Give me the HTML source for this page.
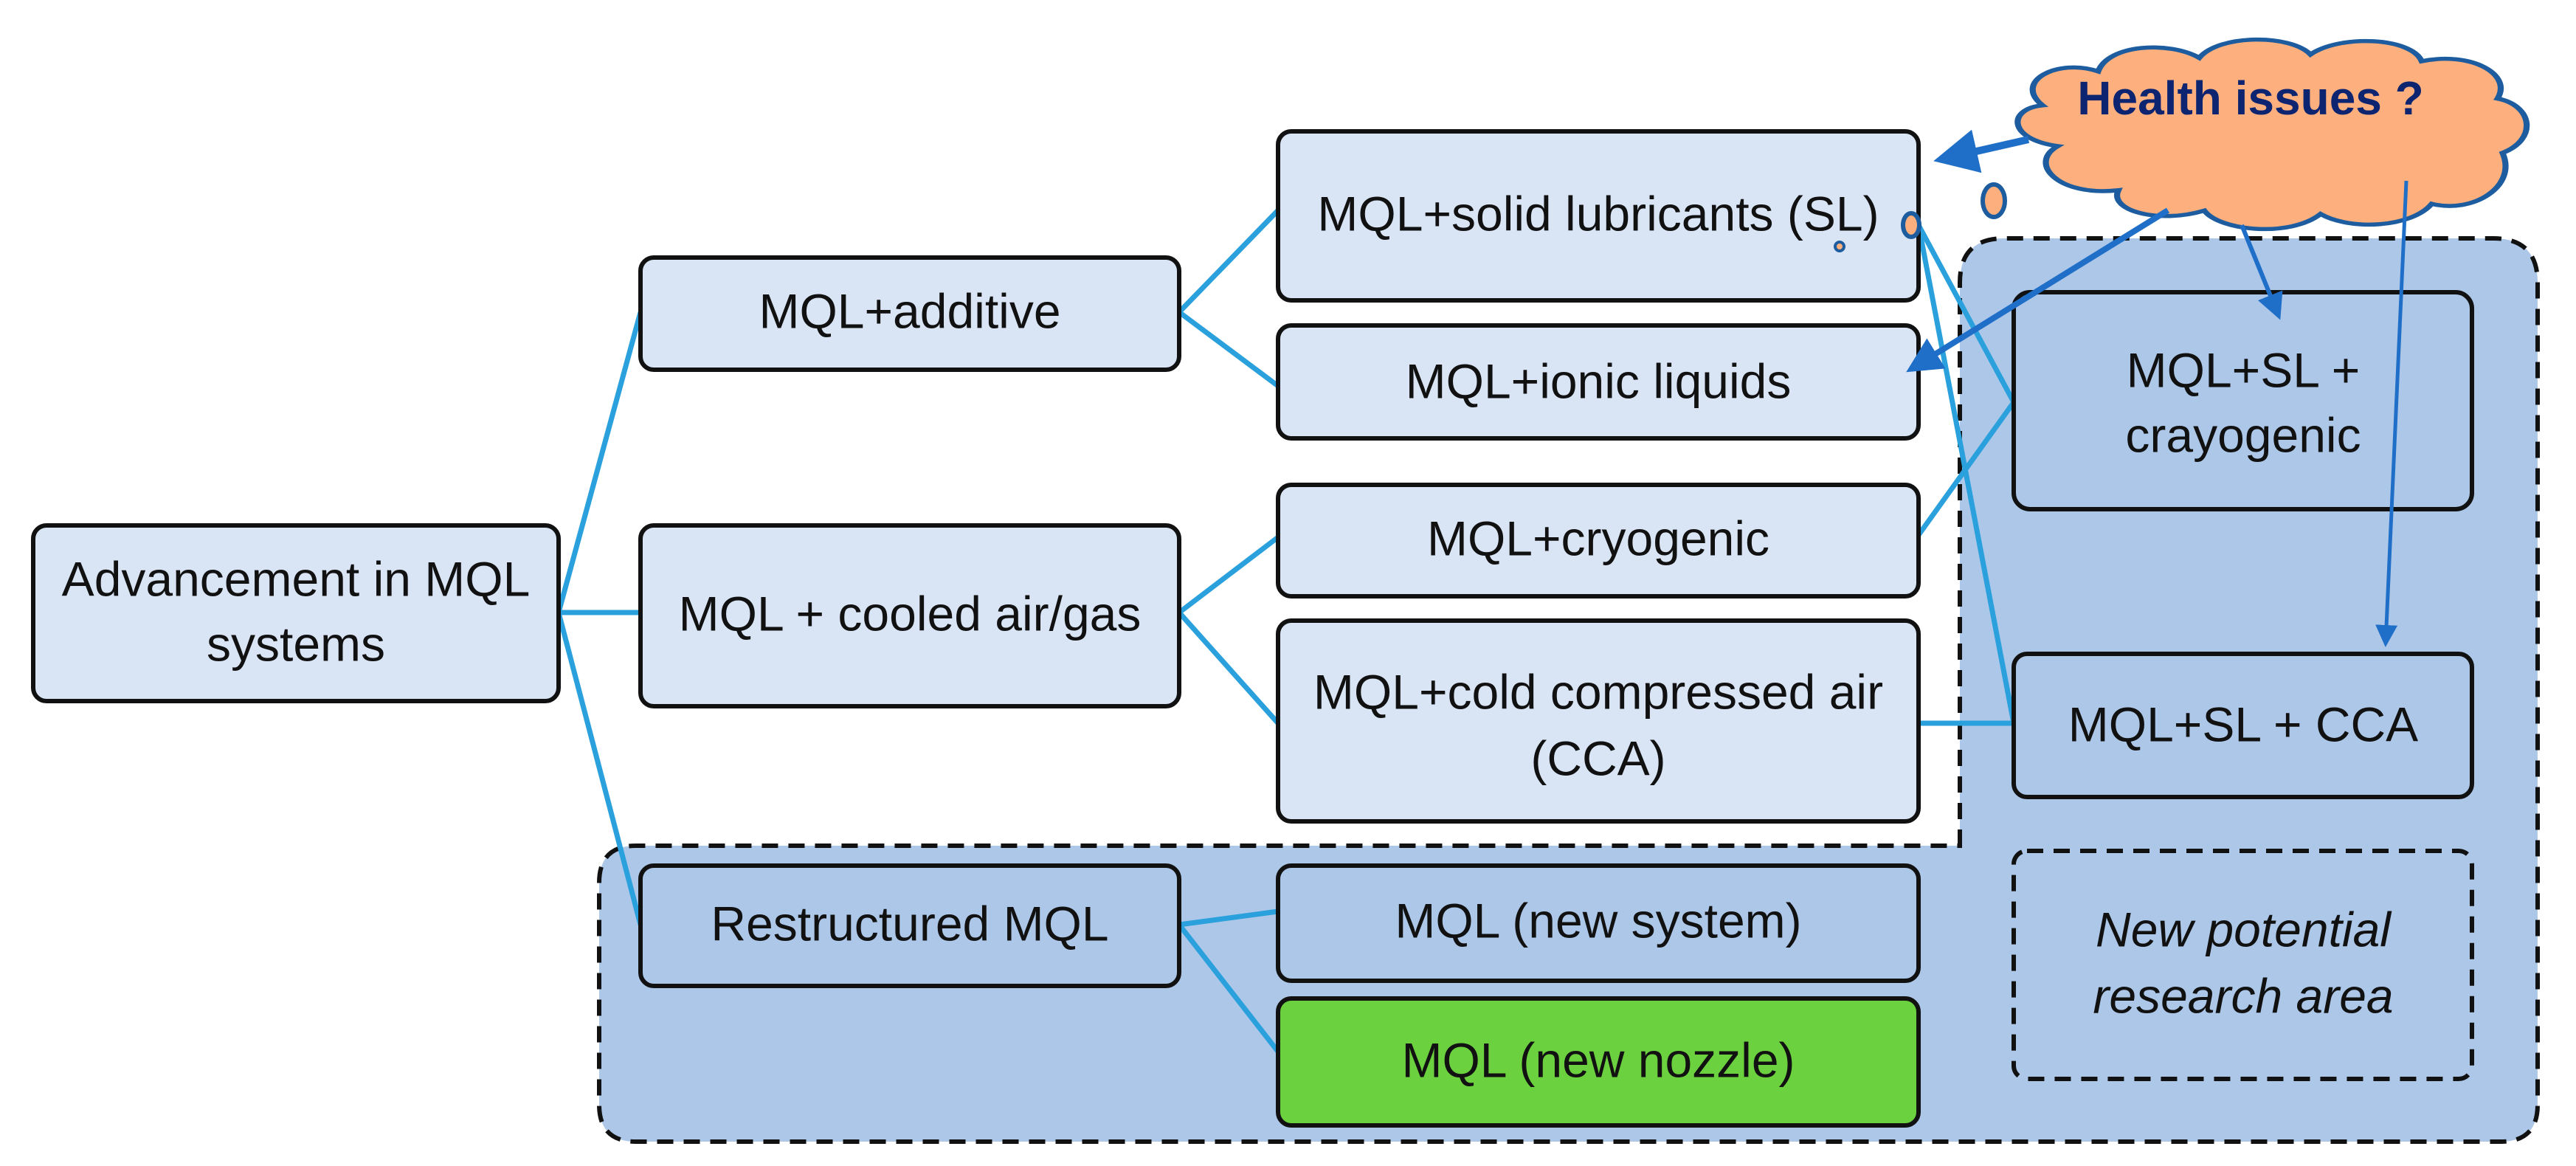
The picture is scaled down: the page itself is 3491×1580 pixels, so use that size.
<!DOCTYPE html>
<html><head><meta charset="utf-8"><style>
html,body{margin:0;padding:0;background:#fff;}
svg{display:block;}
text{font-family:"Liberation Sans",sans-serif;font-size:66px;fill:#111;text-anchor:middle;dominant-baseline:middle;}
</style></head><body>
<svg width="3491" height="1580" viewBox="0 0 3491 1580" xmlns="http://www.w3.org/2000/svg">
<defs>
<marker id="ah" markerWidth="6" markerHeight="6" refX="5" refY="3" orient="auto" markerUnits="strokeWidth">
<path d="M0,0 L6,3 L0,6 z" fill="#1f6fc8"/></marker>
</defs>
<path d="M2656,1146 L2656,383 Q2656,323 2716,323 L3379,323 Q3439,323 3439,383 L3439,1497 Q3439,1547 3389,1547 L862,1547 Q812,1547 812,1497 L812,1196 Q812,1146 862,1146 Z" fill="#adc7e8" stroke="#111" stroke-width="6" stroke-dasharray="22,14"/>
<g stroke="#2aa0dc" stroke-width="7" fill="none">
<line x1="757" y1="830" x2="868" y2="423"/>
<line x1="757" y1="830" x2="868" y2="830"/>
<line x1="757" y1="830" x2="868" y2="1253"/>
<line x1="1598" y1="423" x2="1732" y2="285"/>
<line x1="1598" y1="423" x2="1732" y2="523"/>
<line x1="1598" y1="830" x2="1732" y2="728"/>
<line x1="1598" y1="830" x2="1732" y2="980"/>
<line x1="1598" y1="1253" x2="1732" y2="1235"/>
<line x1="1598" y1="1253" x2="1732" y2="1425"/>
<line x1="2600" y1="305" x2="2729" y2="545"/>
<line x1="2600" y1="305" x2="2729" y2="980"/>
<line x1="2600" y1="725" x2="2729" y2="545"/>
<line x1="2600" y1="980" x2="2729" y2="980"/>
</g>
<g stroke="#111" stroke-width="6">
<rect x="45" y="712" width="712" height="238" rx="18" fill="#d9e5f5"/>
<rect x="868" y="349" width="730" height="152" rx="18" fill="#d9e5f5"/>
<rect x="868" y="712" width="730" height="245" rx="18" fill="#d9e5f5"/>
<rect x="868" y="1173" width="730" height="163" rx="18" fill="#adc7e8"/>
<rect x="1732" y="178" width="868" height="229" rx="18" fill="#d9e5f5"/>
<rect x="1732" y="441" width="868" height="153" rx="18" fill="#d9e5f5"/>
<rect x="1732" y="657" width="868" height="151" rx="18" fill="#d9e5f5"/>
<rect x="1732" y="841" width="868" height="272" rx="18" fill="#d9e5f5"/>
<rect x="1732" y="1173" width="868" height="156" rx="18" fill="#adc7e8"/>
<rect x="1732" y="1353" width="868" height="172" rx="18" fill="#6cd13f"/>
<rect x="2729" y="396" width="621" height="294" rx="22" fill="#adc7e8"/>
<rect x="2729" y="886" width="621" height="194" rx="18" fill="#adc7e8"/>
<rect x="2729" y="1153" width="621" height="309" rx="18" fill="none" stroke-dasharray="22,14"/>
</g>
<text x="401" y="790">Advancement in MQL</text>
<text x="401" y="878">systems</text>
<text x="1233" y="427">MQL+additive</text>
<text x="1233" y="837">MQL + cooled air/gas</text>
<text x="1233" y="1257">Restructured MQL</text>
<text x="2166" y="295">MQL+solid lubricants (SL)</text>
<text x="2166" y="522">MQL+ionic liquids</text>
<text x="2166" y="735">MQL+cryogenic</text>
<text x="2166" y="943">MQL+cold compressed air</text>
<text x="2166" y="1033">(CCA)</text>
<text x="2166" y="1253">MQL (new system)</text>
<text x="2166" y="1442">MQL (new nozzle)</text>
<text x="3040" y="507">MQL+SL +</text>
<text x="3040" y="595">crayogenic</text>
<text x="3040" y="987">MQL+SL + CCA</text>
<text x="3040" y="1265" font-style="italic">New potential</text>
<text x="3040" y="1355" font-style="italic">research area</text>
<g fill="#fdb07e" stroke="#1d5c9e" stroke-width="6">
<path transform="translate(2727,48) scale(1.37,0.92) translate(-2745,-22)" d="M2775,125 C2745,90 2790,55 2830,75 C2840,35 2900,30 2930,55 C2950,20 3020,20 3040,50 C3070,20 3140,25 3150,60 C3200,45 3240,80 3225,115 C3260,125 3265,175 3230,195 C3245,245 3200,285 3160,270 C3140,305 3080,310 3050,285 C3020,320 2950,310 2935,280 C2890,300 2840,280 2850,250 C2790,260 2760,210 2790,185 C2740,175 2740,130 2775,125 Z"/>
<ellipse cx="2702" cy="272" rx="15" ry="22"/>
<ellipse cx="2590" cy="305" rx="11" ry="16"/>
<circle cx="2493" cy="334" r="6" stroke-width="4"/>
</g>
<text x="3050" y="138" style="font-weight:bold;fill:#0d2470;font-size:64px">Health issues ?</text>
<g stroke="#1f6fc8" fill="none" marker-end="url(#ah)">
<line x1="2749" y1="189" x2="2630" y2="216" stroke-width="10"/>
<line x1="2938" y1="285" x2="2590" y2="500" stroke-width="8"/>
<line x1="3038" y1="305" x2="3088" y2="428" stroke-width="6"/>
<line x1="3261" y1="245" x2="3233" y2="872" stroke-width="5"/>
</g>
</svg>
</body></html>
